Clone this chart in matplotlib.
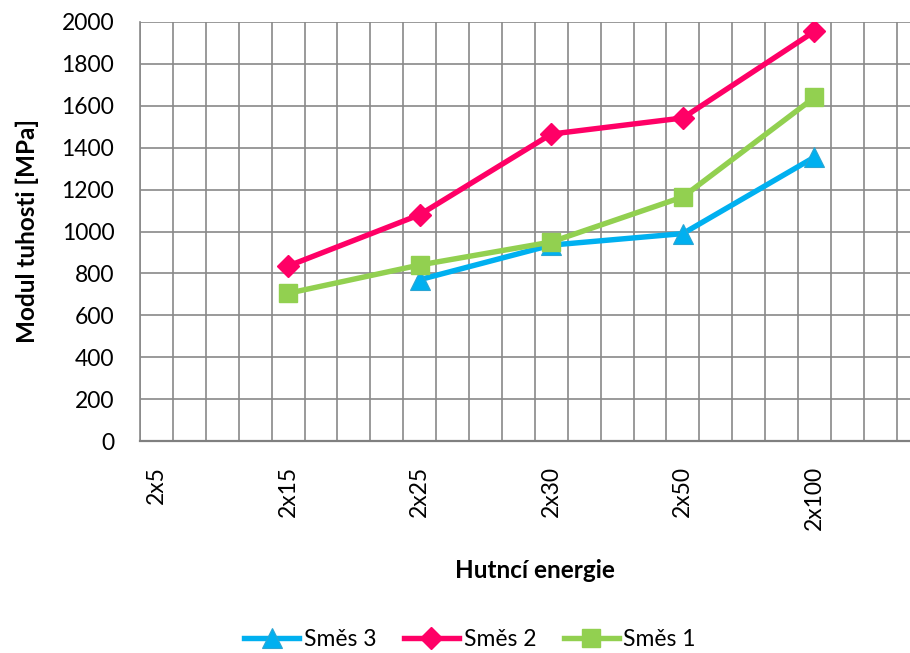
import numpy as np
import matplotlib
matplotlib.use("Agg")
import matplotlib.pyplot as plt

plt.rcParams['font.family'] = ['Lato', 'DejaVu Sans']

# Compaction energy levels and stiffness modulus of each mix [MPa]
categories = ["2x5", "2x15", "2x25", "2x30", "2x50", "2x100"]
smes3 = [np.nan, np.nan, 770, 935, 990, 1355]
smes2 = [np.nan, 835, 1080, 1465, 1542, 1955]
smes1 = [np.nan, 705, 840, 950, 1165, 1640]
y_ticks = list(range(0, 2001, 200))

BLUE = "#00B0F0"
PINK = "#FF0066"
GREEN = "#92D050"
GRID = "#898989"

W, H = 910, 653
fig = plt.figure(figsize=(W / 100, H / 100), dpi=100)
# plot area: x 140..929 px (runs past the right edge), y 22..441 px
ax = fig.add_axes([140 / W, (H - 441) / H, 789.6 / W, 419 / H])

# each category occupies four minor grid cells; points sit half a cell in
xpos = [0.5 + 4 * i for i in range(len(categories))]

ax.plot(xpos, smes3, color=BLUE, lw=3.9, marker="^", ms=15,
        mfc=BLUE, mec="#2BA5D3", mew=0.8, label="Směs 3", zorder=3)
ax.plot(xpos, smes2, color=PINK, lw=3.9, marker="D", ms=11.5,
        mfc=PINK, mec=PINK, label="Směs 2", zorder=3)
ax.plot(xpos, smes1, color=GREEN, lw=3.9, marker="s", ms=12.5,
        mfc=GREEN, mec=GREEN, label="Směs 1", zorder=4)

ax.set_xlim(0, 24)
ax.set_ylim(0, 2000)
ax.set_yticks(y_ticks)
ax.set_xticks(xpos)
ax.set_xticklabels(categories, rotation=90)
ax.set_xticks(np.arange(0, 25), minor=True)

ax.grid(False)
ax.grid(True, which="minor", axis="x", color=GRID, lw=1.2)
ax.grid(True, which="major", axis="y", color=GRID, lw=1.2)
ax.set_axisbelow(True)

ax.tick_params(axis="both", which="both", length=0, labelsize=16.5,
               colors="black")
ax.tick_params(axis="y", pad=18.5)
ax.tick_params(axis="x", pad=18)

for side in ("top", "right"):
    ax.spines[side].set_visible(False)
ax.spines["left"].set_color(GRID)
ax.spines["left"].set_linewidth(1.2)
ax.spines["bottom"].set_color("#808080")
ax.spines["bottom"].set_linewidth(1.6)

fig.text(27 / W, 1 - 231 / H, "Modul tuhosti [MPa]", rotation=90,
         ha="center", va="center", fontsize=17.5, fontweight="bold")
fig.text(535 / W, 1 - 570 / H, "Hutncí energie", ha="center",
         va="center", fontsize=17.5, fontweight="bold")

fig.legend(loc="center", bbox_to_anchor=(470 / W, 1 - 640 / H), ncol=3,
           frameon=False, fontsize=16.5, handlelength=2.4,
           handletextpad=0.2, columnspacing=1.2)

fig.savefig("out.png", dpi=100)
